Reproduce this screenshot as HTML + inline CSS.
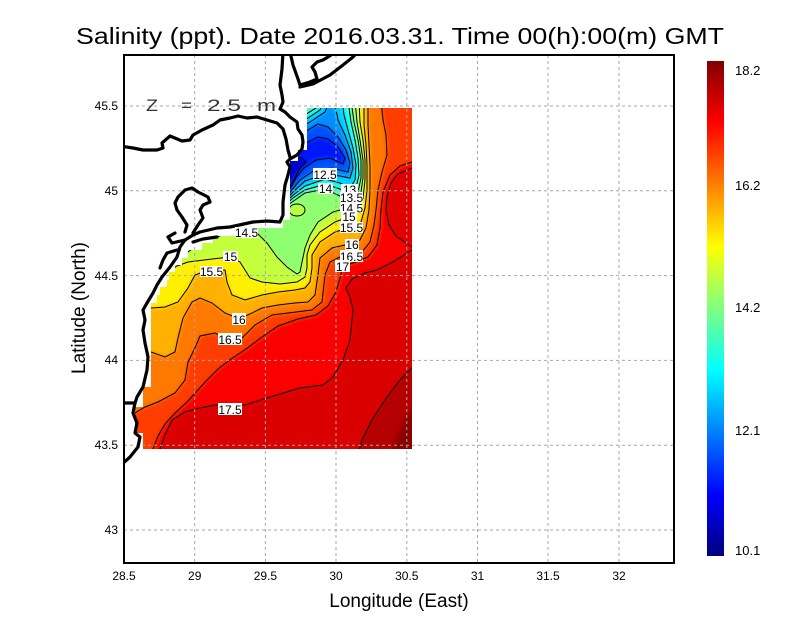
<!DOCTYPE html>
<html><head><meta charset="utf-8">
<style>
html,body{margin:0;padding:0;background:#fff;}
svg{display:block;font-family:"Liberation Sans",sans-serif;}
</style></head>
<body>
<svg width="800" height="618" viewBox="0 0 800 618" xmlns="http://www.w3.org/2000/svg">
<defs>
<clipPath id="mask"><polygon points="307,108 412,108 412,449 143,449 143,433 135,433 135,407 143,407 143,387 151,387 151,303 157,303 157,295 160,295 160,287 167,287 167,280 169,280 169,272 175,272 175,265 182,265 182,258 188,258 188,250 202,250 202,243 213,243 213,236 235,236 235,228 283,228 283,220 290,220 290,161 298,161 298,150 307,150"/></clipPath>
<clipPath id="frame"><rect x="124" y="55" width="550" height="508"/></clipPath>
<filter id="bl" x="-5%" y="-5%" width="110%" height="110%"><feGaussianBlur stdDeviation="2"/></filter>
<linearGradient id="jet" x1="0" y1="0" x2="0" y2="1">
<stop offset="0" stop-color="#800000"/>
<stop offset="0.125" stop-color="#ff0000"/>
<stop offset="0.375" stop-color="#ffff00"/>
<stop offset="0.625" stop-color="#00ffff"/>
<stop offset="0.875" stop-color="#0000ff"/>
<stop offset="1" stop-color="#000080"/>
</linearGradient>
</defs>

<!-- Title -->
<text x="76" y="44" font-size="23" textLength="648" lengthAdjust="spacingAndGlyphs" fill="#000">Salinity (ppt). Date 2016.03.31. Time 00(h):00(m) GMT</text>

<!-- Data field -->
<g clip-path="url(#mask)">
<g filter="url(#bl)">
<rect x="90" y="30" width="360" height="450" fill="#db0000"/>
<path d="M412,368 L400,380 L385,400 L372,420 L362,440 L358,455 L440,455 L440,368 Z" fill="#b40000"/>
<path d="M440,405 L412,408 L402,425 L392,449 L392,470 L440,470 Z" fill="#8a0000"/>
<path d="M100,470 L157,470 L160,449 L165,435 L172,420 L185,412 L200,408 L215,405 L245,405 L270,397 L300,388 L323,385 L333,377 L343,360 L350,340 L353,310 L350,297 L346,288 L352,279 L365,273 L377,270 L393,262 L412,250 L440,250 L440,40 L100,40 Z" fill="#fa0000"/>
<path d="M440,168 L412,168 L398,174 L391,183 L387,197 L386,210 L389,225 L396,236 L412,247 L440,247 Z" fill="#e00000"/>
<path d="M100,470 L150,470 L153,449 L158,436 L165,424 L175,413 L187,402 L197,391 L207,380 L218,369 L231,359 L246,349 L262,337 L278,326 L298,319 L316,315 L328,306 L336,292 L340,278 L343,266 L356,262 L368,257 L377,245 L380,228 L381,210 L383,192 L390,175 L400,166 L412,162 L440,162 L440,40 L100,40 Z" fill="#ff3c00"/>
<path d="M100,414 L135,413 L145,407 L158,402 L175,393 L185,380 L188,362 L195,348 L200,336 L215,333 L230,340 L242,338 L255,325 L272,315 L288,313 L312,310 L322,302 L325,275 L330,262 L340,257 L351,256 L362,252 L370,242 L374,225 L376,210 L378,190 L382,172 L387,155 L386,135 L383,120 L381,108 L381,40 L100,40 Z" fill="#ff7800"/>
<path d="M100,352 L151,352 L165,357 L175,352 L178,338 L183,318 L192,302 L200,298 L212,303 L225,313 L237,318 L248,315 L262,308 L278,305 L295,303 L308,302 L315,295 L318,275 L320,258 L332,248 L345,245 L351,244 L360,240 L366,228 L369,210 L370,190 L370,165 L369,145 L368,125 L368,108 L368,40 L100,40 Z" fill="#ffb000"/>
<path d="M100,308 L152,308 L165,307 L178,302 L188,288 L195,275 L203,272 L225,270 L227,282 L232,295 L245,300 L262,295 L278,292 L295,290 L305,288 L310,282 L312,268 L312,255 L320,242 L335,232 L352,227 L361,222 L365,208 L367,190 L367,165 L366,145 L364,125 L364,108 L364,40 L100,40 Z" fill="#fff000"/>
<path d="M100,278 L160,278 L167,272 L177,266 L188,262 L212,259 L230,257 L240,262 L245,270 L250,278 L262,282 L280,284 L297,282 L305,277 L307,268 L307,255 L310,245 L320,232 L335,222 L351,216 L359,210 L363,198 L365,180 L365,160 L363,140 L360,122 L359,108 L359,40 L100,40 Z" fill="#c4ff3a"/>
<path d="M100,252 L188,252 L200,243 L217,237 L230,232 L245,233 L257,233 L267,243 L277,257 L287,267 L297,274 L300,272 L302,262 L305,248 L310,235 L318,222 L333,212 L351,207 L357,200 L361,192 L363,178 L363,160 L360,140 L357,122 L355,108 L355,40 L100,40 Z" fill="#8eff70"/>
<ellipse cx="297" cy="210" rx="8" ry="6" fill="#c0ff40"/>
<path d="M285,207 L295,200 L305,193 L325,189 L340,196 L352,202 L358,192 L361,178 L361,160 L358,140 L354,122 L351,108 L351,40 L285,40 Z" fill="#4cffb3"/>
<path d="M285,205 L293,198 L305,190 L325,184 L340,189 L351,196 L356,188 L359,175 L358,158 L355,140 L351,122 L348,108 L348,100 L318,100 L316,108 L300,118 L285,125 Z" fill="#10fff0"/>
<path d="M285,203 L292,196 L305,186 L325,179 L340,183 L350,188 L355,180 L356,165 L353,148 L348,130 L344,115 L342,108 L342,100 L324,100 L320,110 L305,120 L285,130 Z" fill="#00cfff"/>
<path d="M285,201 L292,193 L305,181 L325,174 L340,176 L350,178 L353,168 L351,152 L345,135 L338,120 L334,108 L334,100 L330,100 L325,112 L310,122 L285,135 Z" fill="#008fff"/>
<path d="M285,199 L291,191 L300,180 L315,170 L332,168 L348,172 L350,163 L346,150 L338,137 L328,127 L318,124 L308,130 L295,142 L285,150 Z" fill="#0050ff"/>
<path d="M285,196 L290,189 L296,178 L304,168 L316,160 L330,158 L343,164 L345,158 L338,147 L328,139 L318,137 L306,143 L295,152 L285,157 Z" fill="#0018ff"/>
<path d="M285,194 L289,188 L295,178 L300,168 L306,162 L302,158 L292,158 L285,160 Z" fill="#0000d4"/>
</g>
<!-- contour lines -->
<g fill="none" stroke="#000" stroke-width="1">
<path d="M157,470 L160,449 L165,435 L172,420 L185,412 L200,408 L215,405 L245,405 L270,397 L300,388 L323,385 L333,377 L343,360 L350,340 L353,310 L350,297 L346,288 L352,279 L365,273 L377,270 L393,262 L412,250"/>
<path d="M412,168 L398,174 L391,183 L387,197 L386,210 L389,225 L396,236 L412,247"/>
<path d="M412,368 L400,380 L385,400 L372,420 L362,440 L358,455"/>
<path d="M150,470 L153,449 L158,436 L165,424 L175,413 L187,402 L197,391 L207,380 L218,369 L231,359 L246,349 L262,337 L278,326 L298,319 L316,315 L328,306 L336,292 L340,278 L343,266 L356,262 L368,257 L377,245 L380,228 L381,210 L383,192 L390,175 L400,166 L412,162"/>
<path d="M100,414 L135,413 L145,407 L158,402 L175,393 L185,380 L188,362 L195,348 L200,336 L215,333 L230,340 L242,338 L255,325 L272,315 L288,313 L312,310 L322,302 L325,275 L330,262 L340,257 L351,256 L362,252 L370,242 L374,225 L376,210 L378,190 L382,172 L387,155 L386,135 L383,120 L381,100"/>
<path d="M100,352 L151,352 L165,357 L175,352 L178,338 L183,318 L192,302 L200,298 L212,303 L225,313 L237,318 L248,315 L262,308 L278,305 L295,303 L308,302 L315,295 L318,275 L320,258 L332,248 L345,245 L351,244 L360,240 L366,228 L369,210 L370,190 L370,165 L369,145 L368,125 L368,100"/>
<path d="M100,308 L152,308 L165,307 L178,302 L188,288 L195,275 L203,272 L225,270 L227,282 L232,295 L245,300 L262,295 L278,292 L295,290 L305,288 L310,282 L312,268 L312,255 L320,242 L335,232 L352,227 L361,222 L365,208 L367,190 L367,165 L366,145 L364,125 L364,100"/>
<path d="M100,278 L160,278 L167,272 L177,266 L188,262 L212,259 L230,257 L240,262 L245,270 L250,278 L262,282 L280,284 L297,282 L305,277 L307,268 L307,255 L310,245 L320,232 L335,222 L351,216 L359,210 L363,198 L365,180 L365,160 L363,140 L360,122 L359,100"/>
<path d="M100,252 L188,252 L200,243 L217,237 L230,232 L245,233 L257,233 L267,243 L277,257 L287,267 L297,274 L300,272 L302,262 L305,248 L310,235 L318,222 L333,212 L351,207 L357,200 L361,192 L363,178 L363,160 L360,140 L357,122 L355,100"/>
<ellipse cx="297" cy="210" rx="8" ry="6"/>
<path d="M285,207 L295,200 L305,193 L325,189 L340,196 L352,202 L358,192 L361,178 L361,160 L358,140 L354,122 L351,100"/>
<path d="M285,205 L293,198 L305,190 L325,184 L340,189 L351,196 L356,188 L359,175 L358,158 L355,140 L351,122 L348,100"/>
<path d="M318,100 L316,108 L300,118 L285,125"/>
<path d="M285,203 L292,196 L305,186 L325,179 L340,183 L350,188 L355,180 L356,165 L353,148 L348,130 L344,115 L342,100"/>
<path d="M324,100 L320,110 L305,120 L285,130"/>
<path d="M285,201 L292,193 L305,181 L325,174 L340,176 L350,178 L353,168 L351,152 L345,135 L338,120 L334,100"/>
<path d="M330,100 L325,112 L310,122 L285,135"/>
<path d="M285,199 L291,191 L300,180 L315,170 L332,168 L348,172 L350,163 L346,150 L338,137 L328,127 L318,124 L308,130 L295,142 L285,150"/>
<path d="M285,196 L290,189 L296,178 L304,168 L316,160 L330,158 L343,164 L345,158 L338,147 L328,139 L318,137 L306,143 L295,152 L285,157"/>
<path d="M285,194 L289,188 L295,178 L300,168 L306,162 L302,158 L292,158 L285,160"/>
</g>
</g>

<!-- grid -->
<g stroke="#a8a8a8" stroke-width="1" stroke-dasharray="3,3" fill="none">
<line x1="194.7" y1="55" x2="194.7" y2="563"/>
<line x1="265.4" y1="55" x2="265.4" y2="563"/>
<line x1="336" y1="55" x2="336" y2="563"/>
<line x1="406.8" y1="55" x2="406.8" y2="563"/>
<line x1="477.5" y1="55" x2="477.5" y2="563"/>
<line x1="548" y1="55" x2="548" y2="563"/>
<line x1="619" y1="55" x2="619" y2="563"/>
<line x1="124" y1="106" x2="674" y2="106"/>
<line x1="124" y1="190.8" x2="674" y2="190.8"/>
<line x1="124" y1="275.6" x2="674" y2="275.6"/>
<line x1="124" y1="360.4" x2="674" y2="360.4"/>
<line x1="124" y1="445.2" x2="674" y2="445.2"/>
<line x1="124" y1="530" x2="674" y2="530"/>
</g>

<!-- coastline -->
<g clip-path="url(#frame)" fill="none" stroke="#000" stroke-width="3.2" stroke-linejoin="round" stroke-linecap="round">
<path d="M283,52 L282,69 L280,85 L282,95 L283,102 L280,109 L285,112 L290,117 L297,122 L298,129 L302,135 L303,142 L302,149 L297,155 L290,159 L287,162 L290,167 L288,175 L285,185 L283,202 L283,215 L280,222 L267,221 L253,222 L230,227 L217,228 L200,232 L193,235 L185,240 L180,247 L177,257 L170,267 L162,277 L157,285 L153,293 L147,303 L143,310 L145,320 L143,330 L145,343 L148,357 L147,370 L143,387 L137,397 L135,403 L133,413 L137,423 L135,433 L140,437 L138,447 L130,457 L120,466"/>
<path d="M120,146 L133,148 L143,150 L157,150 L163,148 L162,143 L170,136 L182,141 L190,140 L193,135 L202,130 L213,125 L220,120 L230,118 L238,116 L247,118 L257,117 L267,120 L277,123 L283,129 L286,139 L288,150 L290,157"/>
<path d="M290,52 L293,65 L298,79 L300,85 L310,82 L317,79 L315,72 L312,67 L317,62 L323,60 L328,57 L334,53"/>
<path d="M300,87 L313,84 L330,75 L343,65 L353,57 L358,52"/>
<path d="M135,403 L120,403"/>
<path d="M185,232 L187,225 L182,217 L177,210 L175,203 L178,197 L185,190 L192,188 L198,192 L208,197 L210,202 L203,205 L200,210 L203,218 L198,225 L193,233"/>
<path d="M193,242 L203,239 L217,237"/>
<path d="M185,240 L172,243 L168,237 L175,233"/>
<path d="M177,250 L167,253 L163,260 L160,268"/>
</g>

<!-- contour labels -->
<g font-size="12" text-anchor="middle" fill="#000">
<rect x="313" y="168" width="24" height="12" fill="#fff"/><text x="325" y="179">12.5</text>
<rect x="318" y="183" width="15" height="11" fill="#fff"/><text x="325.5" y="193">14</text>
<rect x="341" y="184" width="17" height="10" fill="#fff"/><text x="349.5" y="194">13</text>
<rect x="340" y="192" width="23" height="11" fill="#fff"/><text x="351.5" y="202">13.5</text>
<rect x="340" y="203" width="23" height="10" fill="#fff"/><text x="351.5" y="212.5">14.5</text>
<rect x="341" y="211" width="16" height="11" fill="#fff"/><text x="349" y="221">15</text>
<rect x="340" y="222" width="23" height="11" fill="#fff"/><text x="351.5" y="232">15.5</text>
<rect x="345" y="239" width="14" height="11" fill="#fff"/><text x="352" y="249">16</text>
<rect x="340" y="250" width="23" height="12" fill="#fff"/><text x="351.5" y="261">16.5</text>
<rect x="335" y="260" width="15" height="12" fill="#fff"/><text x="342.5" y="271">17</text>
<rect x="235" y="227" width="23" height="11" fill="#fff"/><text x="246.5" y="237">14.5</text>
<rect x="223" y="251" width="15" height="11" fill="#fff"/><text x="230.5" y="261">15</text>
<rect x="200" y="266" width="23" height="11" fill="#fff"/><text x="211.5" y="276">15.5</text>
<rect x="232" y="313" width="14" height="12" fill="#fff"/><text x="239" y="324">16</text>
<rect x="218" y="333" width="24" height="12" fill="#fff"/><text x="230" y="344">16.5</text>
<rect x="218" y="403" width="24" height="12" fill="#fff"/><text x="230" y="414">17.5</text>
</g>

<!-- Z label -->
<g font-size="16.5" fill="#333">
<text x="146" y="111" textLength="12" lengthAdjust="spacingAndGlyphs">Z</text>
<text x="181" y="111" textLength="11" lengthAdjust="spacingAndGlyphs">=</text>
<text x="207" y="111" textLength="34" lengthAdjust="spacingAndGlyphs">2.5</text>
<text x="257" y="111" textLength="19" lengthAdjust="spacingAndGlyphs">m</text>
</g>

<!-- frame -->
<rect x="124" y="55" width="550" height="508" fill="none" stroke="#000" stroke-width="2"/>

<!-- y tick labels -->
<g font-size="12" text-anchor="end" fill="#000">
<text x="118" y="110">45.5</text>
<text x="118" y="195">45</text>
<text x="118" y="280">44.5</text>
<text x="118" y="364">44</text>
<text x="118" y="449">43.5</text>
<text x="118" y="534">43</text>
</g>
<!-- x tick labels -->
<g font-size="12" text-anchor="middle" fill="#000">
<text x="124" y="580">28.5</text>
<text x="194.7" y="580">29</text>
<text x="265.4" y="580">29.5</text>
<text x="336" y="580">30</text>
<text x="406.8" y="580">30.5</text>
<text x="477.5" y="580">31</text>
<text x="548" y="580">31.5</text>
<text x="619" y="580">32</text>
</g>

<!-- axis titles -->
<text x="399" y="607" font-size="19" text-anchor="middle" fill="#000">Longitude (East)</text>
<text transform="translate(85,308) rotate(-90)" font-size="19" text-anchor="middle" fill="#000">Latitude (North)</text>

<!-- colorbar -->
<rect x="707" y="61" width="17" height="495" fill="url(#jet)"/>
<g font-size="13" fill="#000">
<text x="735" y="75">18.2</text>
<text x="735" y="190">16.2</text>
<text x="735" y="312">14.2</text>
<text x="735" y="435">12.1</text>
<text x="735" y="555">10.1</text>
</g>
</svg>
</body></html>
